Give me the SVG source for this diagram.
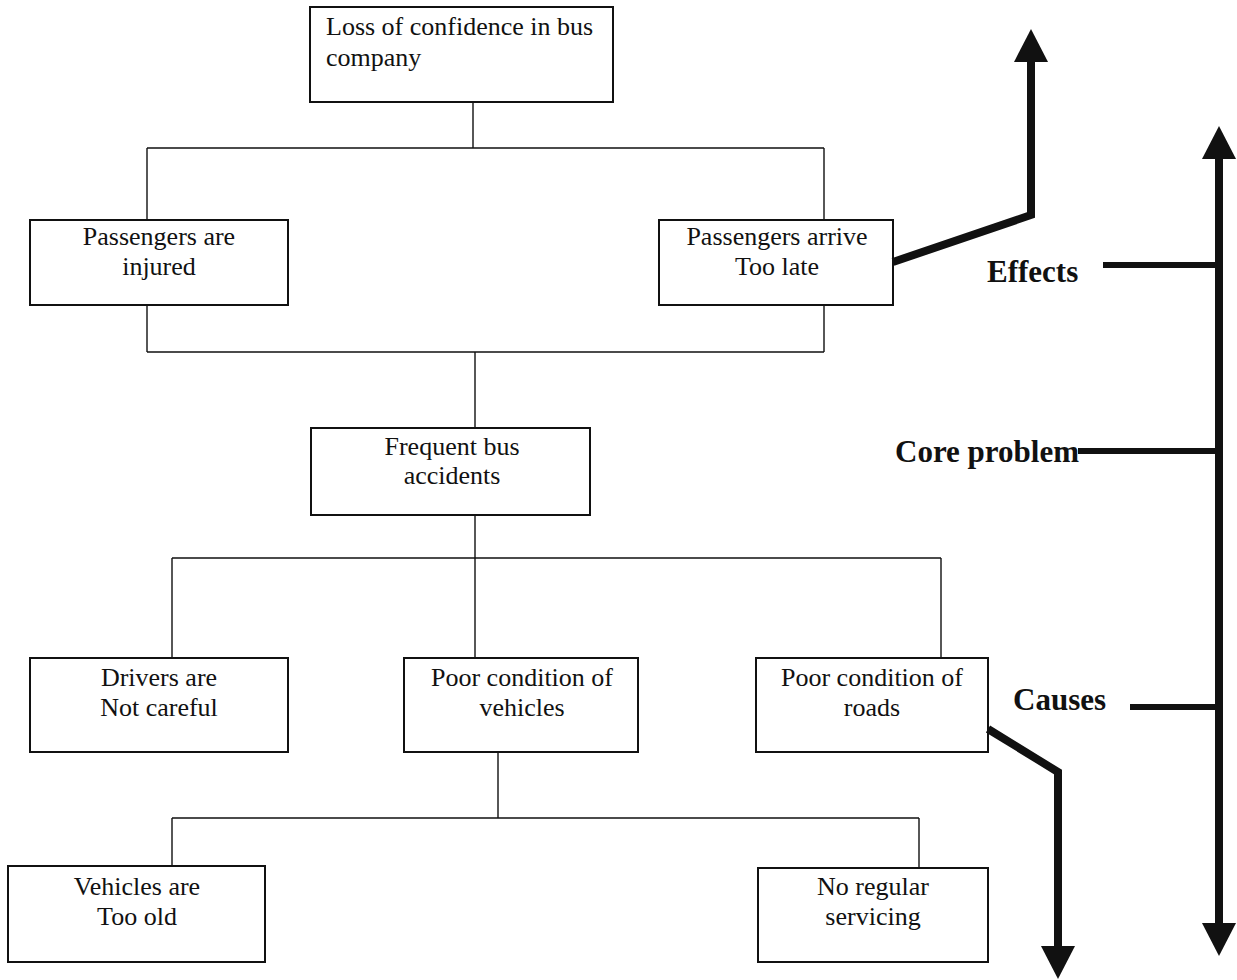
<svg xmlns="http://www.w3.org/2000/svg" width="1237" height="980" viewBox="0 0 1237 980">
<defs>
<style>
.box{fill:#fff;stroke:#111;stroke-width:2}
.t{font-family:"Liberation Serif","Times New Roman",serif;font-size:26px;fill:#111;text-anchor:middle}
.tl{text-anchor:start}
.lab{font-family:"Liberation Serif","Times New Roman",serif;font-size:31px;font-weight:bold;fill:#111}
.con{fill:none;stroke:#111;stroke-width:1.4}
.thick{fill:none;stroke:#111;stroke-width:8}
.tick{fill:none;stroke:#111;stroke-width:6}
</style>
<marker id="ah" viewBox="0 0 33 34" markerUnits="userSpaceOnUse" markerWidth="33" markerHeight="34" refX="0" refY="17" orient="auto-start-reverse">
<path d="M0,0 L33,17 L0,34 z" fill="#111"/>
</marker>
</defs>
<rect width="1237" height="980" fill="#fff"/>
<g id="connectors">
<path class="con" d="M473,102 V148 M147,148 H824 M147,148 V220 M824,148 V220"/>
<path class="con" d="M147,305 V352 M824,305 V352 M147,352 H824 M475,352 V428"/>
<path class="con" d="M475,515 V558 M172,558 H941 M172,558 V658 M475,558 V658 M941,558 V658"/>
<path class="con" d="M498,752 V818 M172,818 H919 M172,818 V866 M919,818 V868"/>
</g>
<g id="n1"><rect class="box" x="310" y="7" width="303" height="95"/><text class="t tl" x="326" y="35">Loss of confidence in bus</text><text class="t tl" x="326" y="66">company</text></g>
<g id="n2"><rect class="box" x="30" y="220" width="258" height="85"/><text class="t" x="159" y="245">Passengers are</text><text class="t" x="159" y="275">injured</text></g>
<g id="n3"><rect class="box" x="659" y="220" width="234" height="85"/><text class="t" x="777" y="245">Passengers arrive</text><text class="t" x="777" y="275">Too late</text></g>
<g id="n4"><rect class="box" x="311" y="428" width="279" height="87"/><text class="t" x="452" y="455">Frequent bus</text><text class="t" x="452" y="484">accidents</text></g>
<g id="n5"><rect class="box" x="30" y="658" width="258" height="94"/><text class="t" x="159" y="686">Drivers are</text><text class="t" x="159" y="716">Not careful</text></g>
<g id="n6"><rect class="box" x="404" y="658" width="234" height="94"/><text class="t" x="522" y="686">Poor condition of</text><text class="t" x="522" y="716">vehicles</text></g>
<g id="n7"><rect class="box" x="756" y="658" width="232" height="94"/><text class="t" x="872" y="686">Poor condition of</text><text class="t" x="872" y="716">roads</text></g>
<g id="n8"><rect class="box" x="8" y="866" width="257" height="96"/><text class="t" x="137" y="895">Vehicles are</text><text class="t" x="137" y="925">Too old</text></g>
<g id="n9"><rect class="box" x="758" y="868" width="230" height="94"/><text class="t" x="873" y="895">No regular</text><text class="t" x="873" y="925">servicing</text></g>
<g id="arrows">
<path class="thick" d="M893,262 L1031,215 L1031,62" marker-end="url(#ah)"/>
<path class="thick" d="M988,729 L1058,772 L1058,946" marker-end="url(#ah)"/>
<path class="thick" d="M1219,159 V923" marker-start="url(#ah)" marker-end="url(#ah)"/>
<path class="tick" d="M1103,265 H1219 M1078,451 H1219 M1130,707 H1219"/>
</g>
<g id="labels">
<text class="lab" x="987" y="282">Effects</text>
<text class="lab" x="895" y="462">Core problem</text>
<text class="lab" x="1013" y="710">Causes</text>
</g>
</svg>
